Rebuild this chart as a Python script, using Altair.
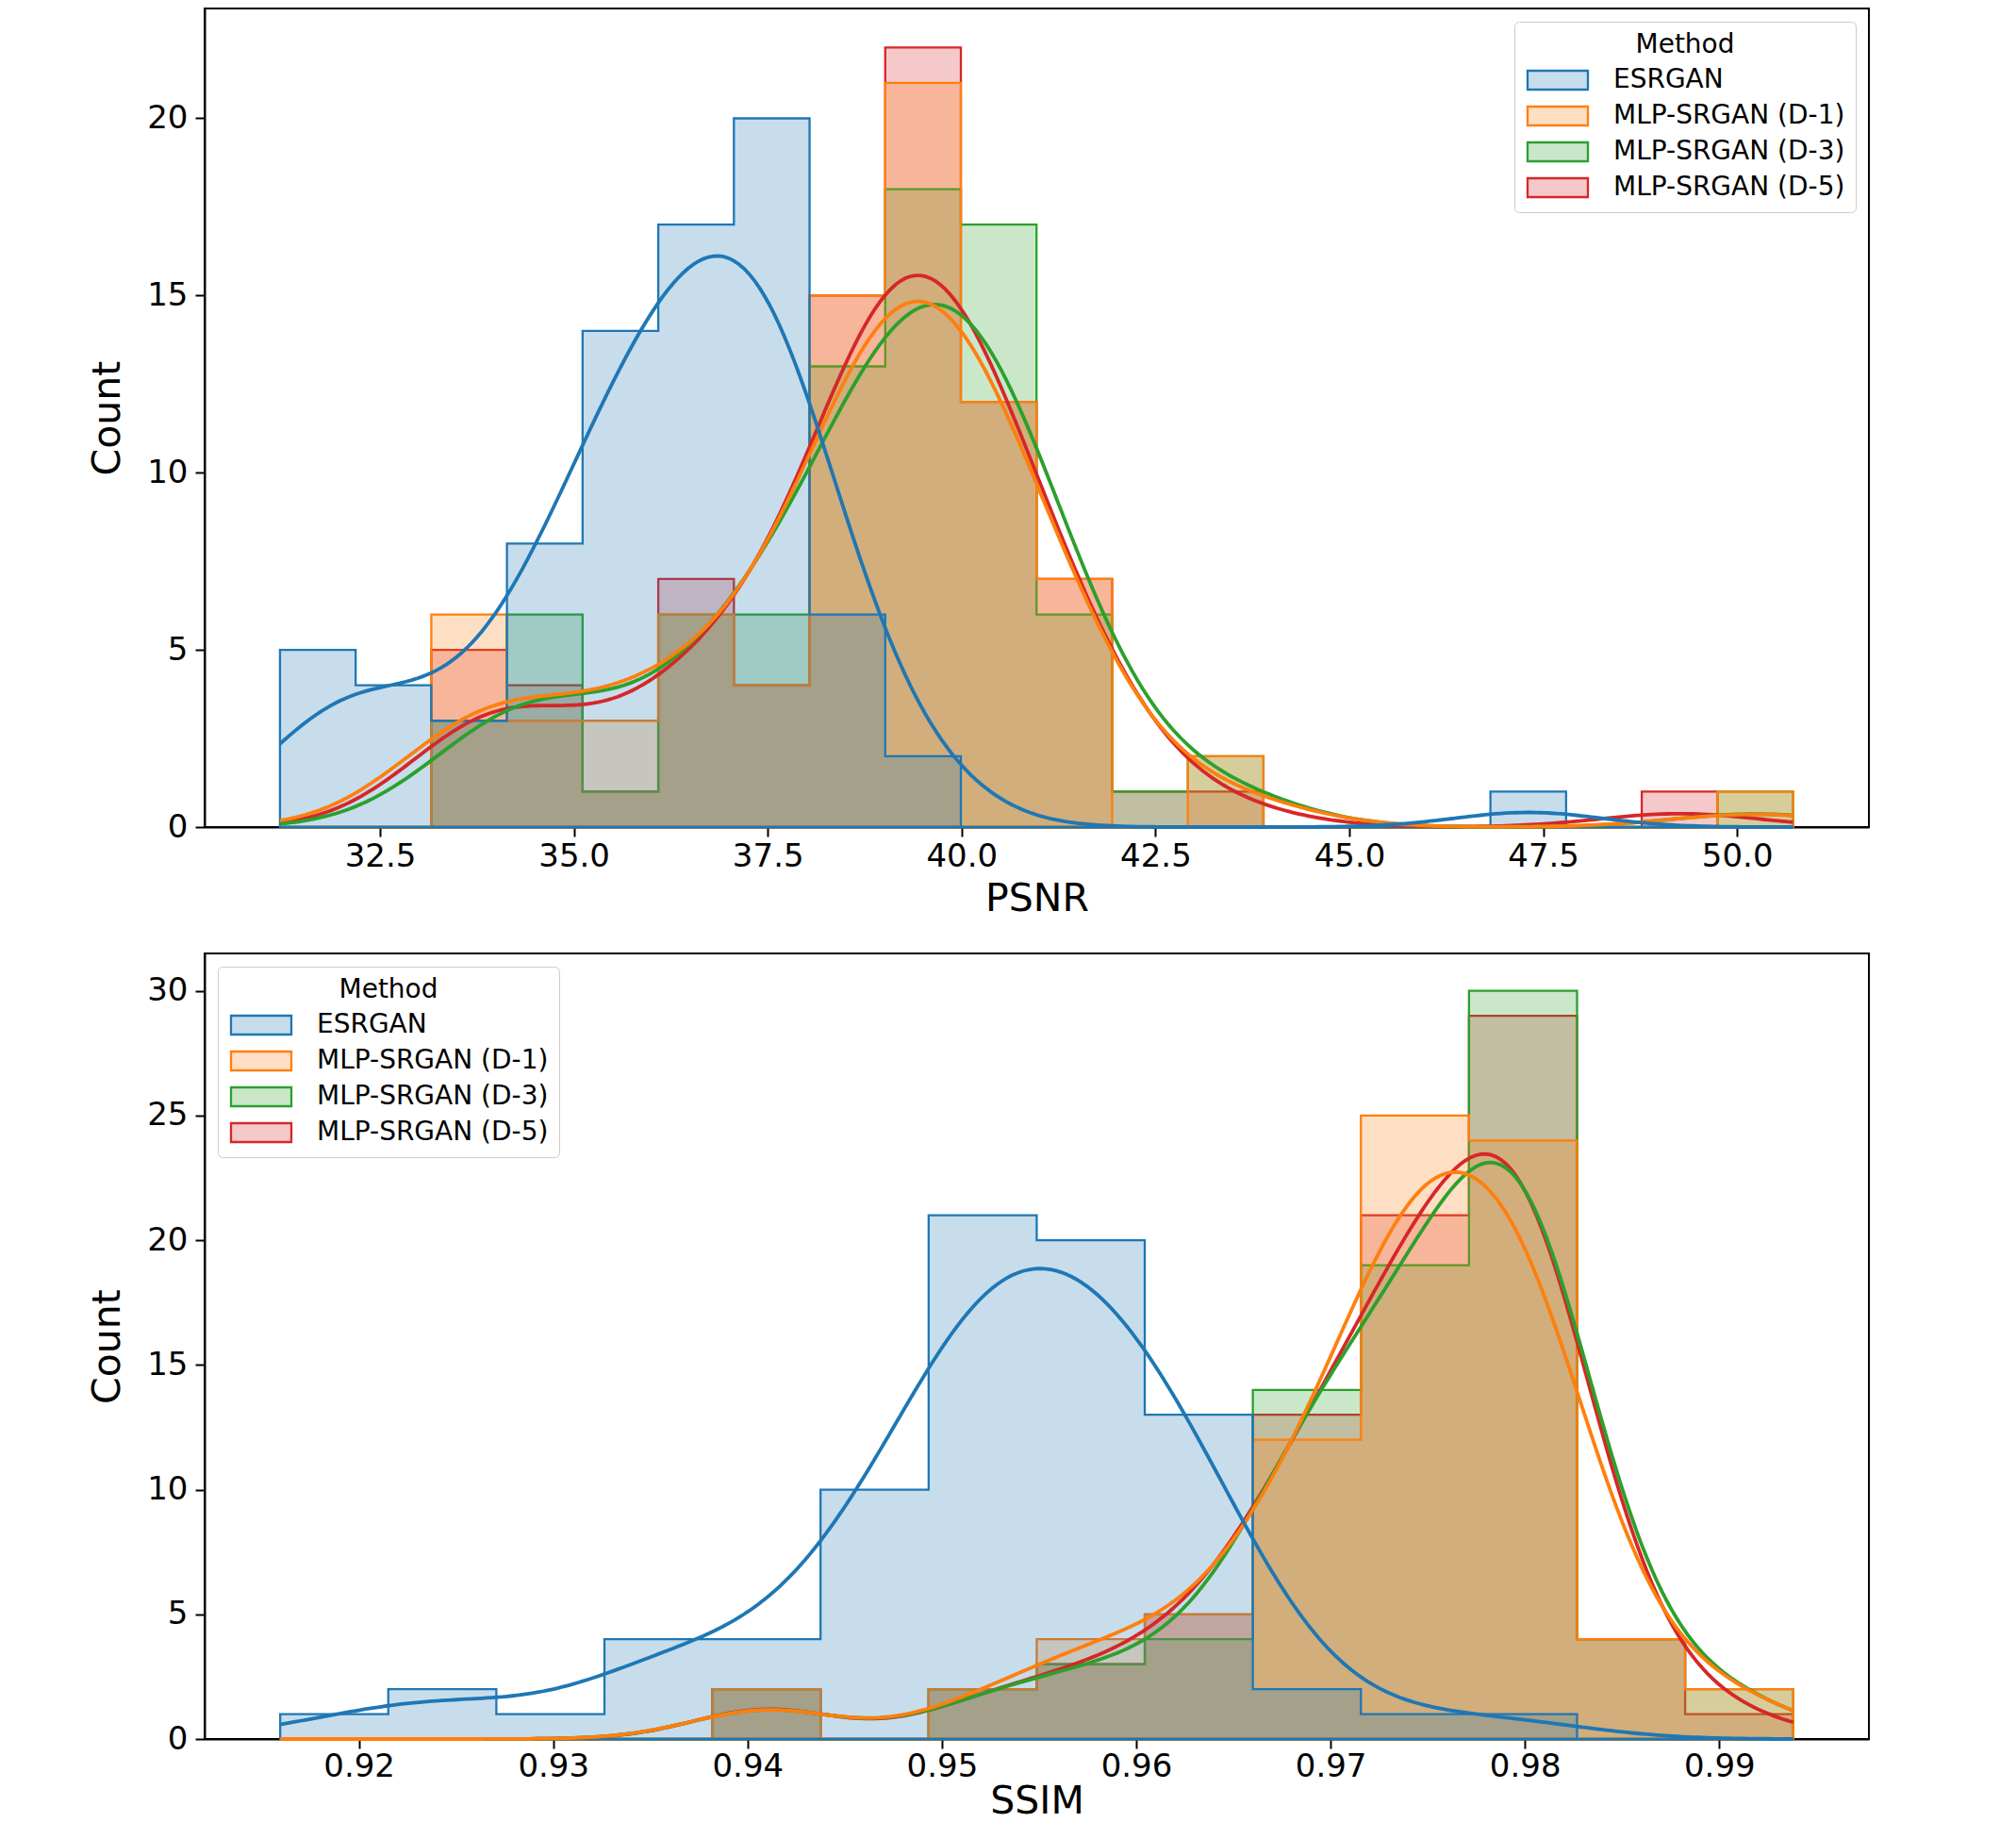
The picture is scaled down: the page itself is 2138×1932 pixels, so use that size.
import altair as alt
import pandas as pd
import numpy as np

methods = ["ESRGAN", "MLP-SRGAN (D-1)", "MLP-SRGAN (D-3)", "MLP-SRGAN (D-5)"]
colors = ["#1f77b4", "#ff7f0e", "#2ca02c", "#d62728"]

# ---- PSNR histogram (20 bins) ----
psnr_bin_start = 31.21
psnr_bin_width = 0.9756
psnr_esrgan = [5, 4, 3, 8, 14, 17, 20, 6, 2, 0, 0, 0, 0, 0, 0, 0, 1, 0, 0, 0]
psnr_d1 = [0, 0, 6, 3, 3, 6, 4, 15, 21, 12, 7, 0, 2, 0, 0, 0, 0, 0, 0, 1]
psnr_d3 = [0, 0, 3, 6, 1, 6, 6, 13, 18, 17, 6, 1, 2, 0, 0, 0, 0, 0, 0, 1]
psnr_d5 = [0, 0, 5, 4, 1, 7, 4, 15, 22, 12, 7, 1, 1, 0, 0, 0, 0, 0, 1, 0]
psnr_xticks = [32.5, 35.0, 37.5, 40.0, 42.5, 45.0, 47.5, 50.0]
psnr_yticks = [0, 5, 10, 15, 20]
psnr_xdomain = [30.238, 51.70]
psnr_ydomain = [0, 23.1]

# ---- SSIM histogram (14 bins) ----
ssim_bin_start = 0.91595
ssim_bin_width = 0.005561
ssim_esrgan = [1, 2, 1, 4, 4, 10, 21, 20, 13, 2, 1, 1, 0, 0]
ssim_d1 = [0, 0, 0, 0, 2, 0, 2, 4, 5, 12, 25, 24, 4, 2]
ssim_d3 = [0, 0, 0, 0, 2, 0, 2, 3, 4, 14, 19, 30, 4, 2]
ssim_d5 = [0, 0, 0, 0, 2, 0, 2, 3, 5, 13, 21, 29, 4, 1]
ssim_xticks = [0.92, 0.93, 0.94, 0.95, 0.96, 0.97, 0.98, 0.99]
ssim_yticks = [0, 5, 10, 15, 20, 25, 30]
ssim_xdomain = [0.91206, 0.9977]
ssim_ydomain = [0, 31.5]

FONT = "DejaVu Sans"


def step_table(count_lists, start, width):
    rows = []
    for m, counts in zip(methods, count_lists):
        n = len(counts)
        for i, c in enumerate(counts):
            rows.append({"method": m, "val": start + i * width, "cnt": c})
        rows.append({"method": m, "val": start + n * width, "cnt": counts[-1]})
    return pd.DataFrame(rows)


def sample_table(count_lists, start, width):
    rows = []
    for m, counts in zip(methods, count_lists):
        for i, c in enumerate(counts):
            rows.extend([{"method": m, "sample": start + (i + 0.5) * width}] * c)
    return pd.DataFrame(rows)


def panel(count_lists, start, width, xdomain, ydomain, xticks, yticks, xfmt,
          xtitle, legend_orient, h, title_pad, label_pad):
    nb = len(count_lists[0])
    lo, hi = start, start + nb * width
    steps = step_table(count_lists, start, width)
    samples = sample_table(count_lists, start, width)

    color_scale = alt.Scale(domain=methods, range=colors)
    legend = alt.Legend(
        title="Method", orient=legend_orient, offset=14,
        symbolType="M-3.2,-1H3.2V1H-3.2Z", symbolSize=400,
        symbolOffset=21, labelOffset=45, symbolStrokeWidth=2.5,
        labelFontSize=28, labelFont=FONT, labelColor="black", labelLimit=600,
        titleFontSize=28, titleFont=FONT, titleFontWeight="normal",
        titleColor="black", titleAnchor="middle", titlePadding=9,
        padding=11, rowPadding=8, strokeColor="#cccccc",
        fillColor="rgba(255,255,255,0.8)", cornerRadius=5,
    )
    x_enc = alt.X("val:Q", scale=alt.Scale(domain=xdomain, nice=False, zero=False),
                  axis=alt.Axis(values=xticks, format=xfmt, title=xtitle,
                                labelFlush=False, titlePadding=title_pad,
                                labelPadding=label_pad))
    y_enc = alt.Y("cnt:Q", stack=None,
                  scale=alt.Scale(domain=ydomain, nice=False),
                  axis=alt.Axis(values=yticks, format="d", title="Count",
                                labelPadding=8, titlePadding=20))

    layers = []
    order = [3, 2, 1, 0]
    for k in order:
        m = methods[k]
        layers.append(
            alt.Chart(steps)
            .transform_filter(alt.datum.method == m)
            .mark_area(interpolate="step-after")
            .encode(
                x=x_enc, y=y_enc,
                fill=alt.Fill("method:N", scale=color_scale, legend=legend),
                stroke=alt.Stroke("method:N", scale=color_scale, legend=legend),
            )
        )
    for k in order:
        m = methods[k]
        vals = samples.loc[samples["method"] == m, "sample"].to_numpy()
        # Scott's rule on the binned sample, with Sheppard's correction for binning
        var = max(np.var(vals, ddof=1) - width ** 2 / 12.0, 1e-12)
        bw = float(np.sqrt(var) * len(vals) ** (-0.2))
        layers.append(
            alt.Chart(samples)
            .transform_filter(alt.datum.method == m)
            .transform_density("sample", as_=["val", "density"], extent=[lo, hi],
                               bandwidth=bw, counts=True, steps=300)
            .transform_calculate(cnt=f"datum.density * {width}")
            .mark_line(stroke=colors[k], strokeWidth=3.8)
            .encode(x=x_enc, y=y_enc)
        )
    return alt.layer(*layers).properties(width=1765, height=h)


top = panel([psnr_esrgan, psnr_d1, psnr_d3, psnr_d5], psnr_bin_start, psnr_bin_width,
            psnr_xdomain, psnr_ydomain, psnr_xticks, psnr_yticks, ".1f", "PSNR",
            "top-right", 868, 8, 4)
bottom = panel([ssim_esrgan, ssim_d1, ssim_d3, ssim_d5], ssim_bin_start, ssim_bin_width,
               ssim_xdomain, ssim_ydomain, ssim_xticks, ssim_yticks, ".2f", "SSIM",
               "top-left", 833, 0, 2)

chart = (
    alt.vconcat(top, bottom, spacing=36)
    .properties(padding={"left": 84, "top": 0, "right": 0, "bottom": 0})
    .configure(font=FONT)
    .configure_view(stroke="black", strokeWidth=2)
    .configure_area(fillOpacity=0.25, strokeWidth=2.3)
    .configure_axis(
        grid=False, domainColor="black", domainWidth=2, tickColor="black",
        tickWidth=2, tickSize=10, labelFont=FONT, labelFontSize=34,
        labelColor="black", titleFont=FONT, titleFontSize=41,
        titleFontWeight="normal", titleColor="black", titlePadding=10,
    )
)

chart.save("out.html", embed_options={"renderer": "svg", "actions": False})
